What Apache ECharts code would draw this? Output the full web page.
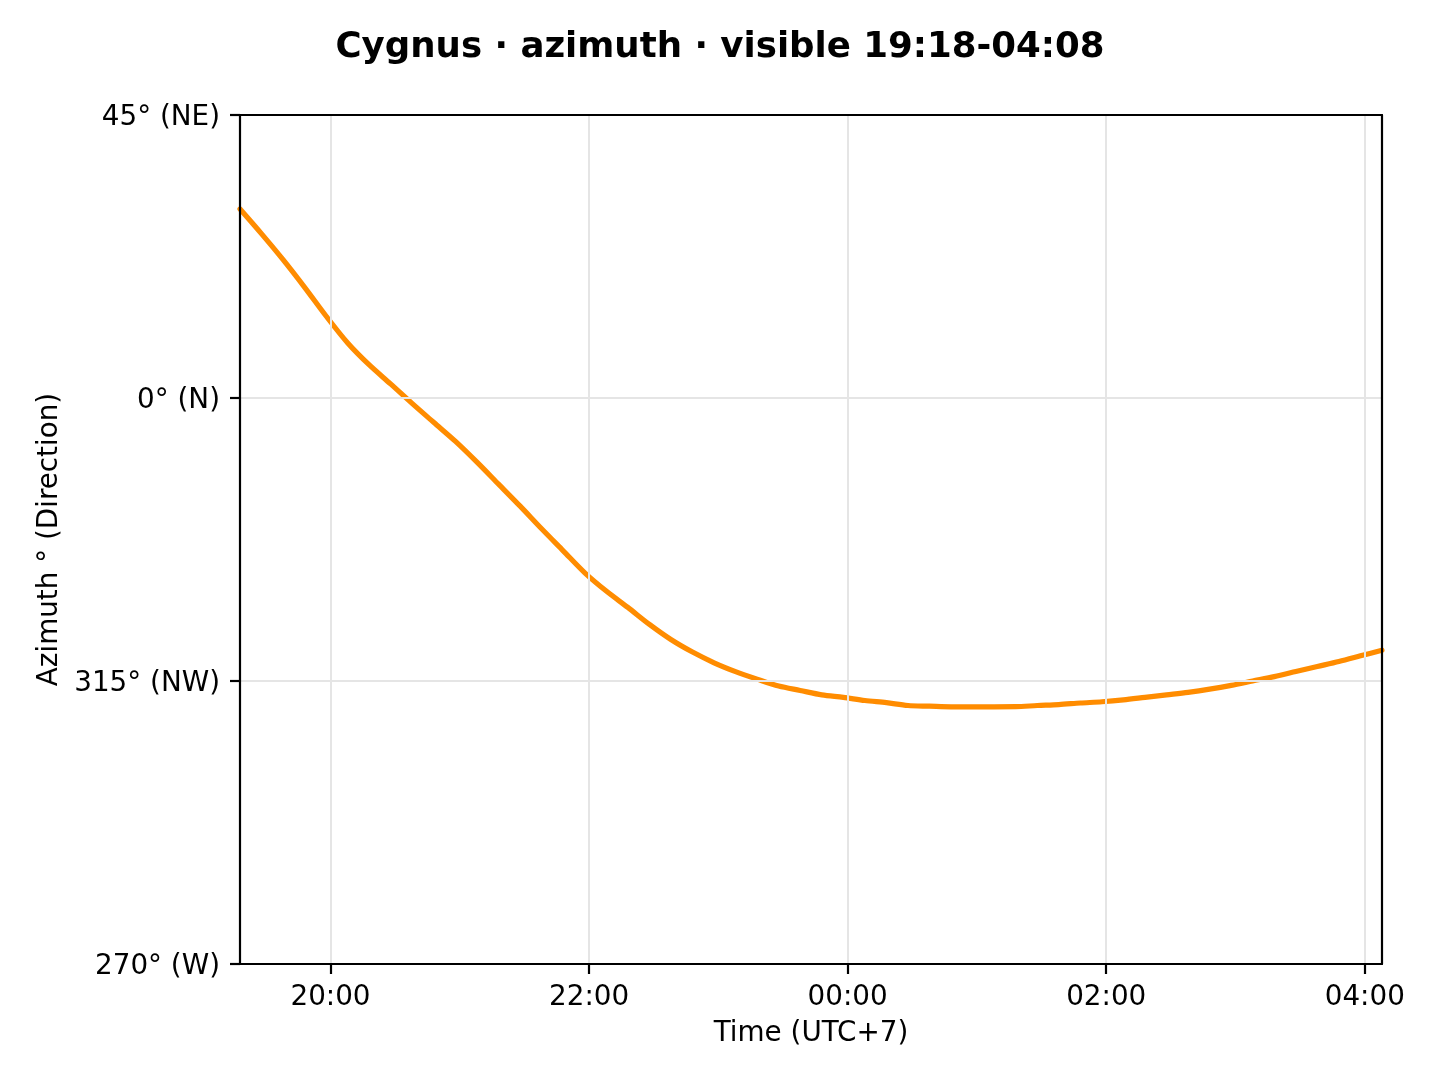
<!DOCTYPE html>
<html>
<head>
<meta charset="utf-8">
<script src="https://cdn.jsdelivr.net/npm/echarts@6/dist/echarts.min.js"></script>
<style>
html,body{margin:0;padding:0;background:#fff;}
#chart{width:1440px;height:1080px;}
</style>
</head>
<body>
<div id="chart"></div>
<script>
// Time in hours (values >= 24 are after midnight)
const timeHours = [19.3,19.467,19.633,19.8,19.967,20.133,20.3,20.467,20.633,20.8,20.967,21.133,21.3,21.467,21.633,21.8,21.967,22.133,22.3,22.467,22.633,22.8,22.967,23.133,23.3,23.467,23.633,23.8,23.967,24.133,24.3,24.467,24.633,24.8,24.967,25.133,25.3,25.467,25.633,25.8,25.967,26.133,26.3,26.467,26.633,26.8,26.967,27.133,27.3,27.467,27.633,27.8,27.967,28.133];
// Azimuth unwrapped around north (negative = 360 + value)
const azimuth = [30.05,26.1,22.0,17.6,13.0,8.75,5.25,2.2,-0.9,-3.9,-6.9,-10.2,-13.7,-17.2,-20.8,-24.3,-27.8,-30.7,-33.3,-36.0,-38.4,-40.4,-42.1,-43.5,-44.7,-45.8,-46.5,-47.2,-47.6,-48.1,-48.45,-48.9,-49.0,-49.1,-49.1,-49.1,-49.08,-48.9,-48.75,-48.5,-48.3,-48.0,-47.6,-47.2,-46.8,-46.3,-45.7,-45.0,-44.3,-43.5,-42.7,-41.9,-41.0,-40.1];
const xTickValues = [20,22,24,26,28];
const yTickValues = [-90,-45,0,45];
const yTickLabels = {'-90':'270° (W)','-45':'315° (NW)','0':'0° (N)','45':'45° (NE)'};
const xMin = 19.3, xMax = 28.1333;
const titleText = 'Cygnus · azimuth · visible 19:18-04:08';

const FONT = 'DejaVu Sans';
const chart = echarts.init(document.getElementById('chart'), null, {renderer:'canvas'});
const data = timeHours.map((t,i)=>[t, azimuth[i]]);

function fmtHour(v){
  const h = ((Math.round(v) % 24) + 24) % 24;
  return (h<10?'0':'')+h+':00';
}
const frameLine = {show:true,onZero:false,lineStyle:{color:'#000',width:2.2}};

chart.setOption({
  animation:false,
  backgroundColor:'#ffffff',
  title:{
    text:titleText,
    left:'center',
    top:25,
    textStyle:{fontFamily:FONT,fontSize:35.6,fontWeight:'bold',color:'#000'}
  },
  grid:{left:240,right:58,top:115,bottom:116,show:false},
  xAxis:[{
    type:'value',min:xMin,max:xMax,
    name:'Time (UTC+7)',nameLocation:'middle',nameGap:56,
    nameTextStyle:{fontFamily:FONT,fontSize:27.8,color:'#000'},
    axisLine:frameLine,
    axisTick:{show:true,inside:false,length:10,lineStyle:{color:'#000',width:2.2},customValues:xTickValues},
    axisLabel:{show:true,margin:20,fontFamily:FONT,fontSize:27.8,color:'#000',customValues:xTickValues,formatter:fmtHour},
    splitLine:{show:true,lineStyle:{color:'#e5e5e5',width:2}},
    z:5
  },{
    type:'value',position:'top',min:xMin,max:xMax,
    axisLine:frameLine,axisTick:{show:false},axisLabel:{show:false},splitLine:{show:false},z:5
  }],
  yAxis:[{
    type:'value',min:-90,max:45,interval:45,
    name:'Azimuth ° (Direction)',nameLocation:'middle',nameGap:176,nameRotate:90,
    nameTextStyle:{fontFamily:FONT,fontSize:27.8,color:'#000'},
    axisLine:frameLine,
    axisTick:{show:true,inside:false,length:10,lineStyle:{color:'#000',width:2.2}},
    axisLabel:{show:true,margin:20,fontFamily:FONT,fontSize:27.8,color:'#000',
      formatter:v=>yTickLabels[String(v)]!==undefined?'{a|'+yTickLabels[String(v)]+'}':'',
      rich:{a:{fontFamily:FONT,fontSize:27.8,color:'#000',padding:[6,0,0,0]}}},
    splitLine:{show:true,lineStyle:{color:'#e5e5e5',width:2}},
    z:5
  },{
    type:'value',position:'right',min:-90,max:45,interval:45,
    axisLine:frameLine,axisTick:{show:false},axisLabel:{show:false},splitLine:{show:false},z:5
  }],
  series:[{
    type:'line',data:data,showSymbol:false,smooth:0.3,
    lineStyle:{color:'#ff8c00',width:5.2,cap:'round',join:'round'},
    itemStyle:{color:'#ff8c00'},
    clip:true,z:3
  }]
});
</script>
</body>
</html>
